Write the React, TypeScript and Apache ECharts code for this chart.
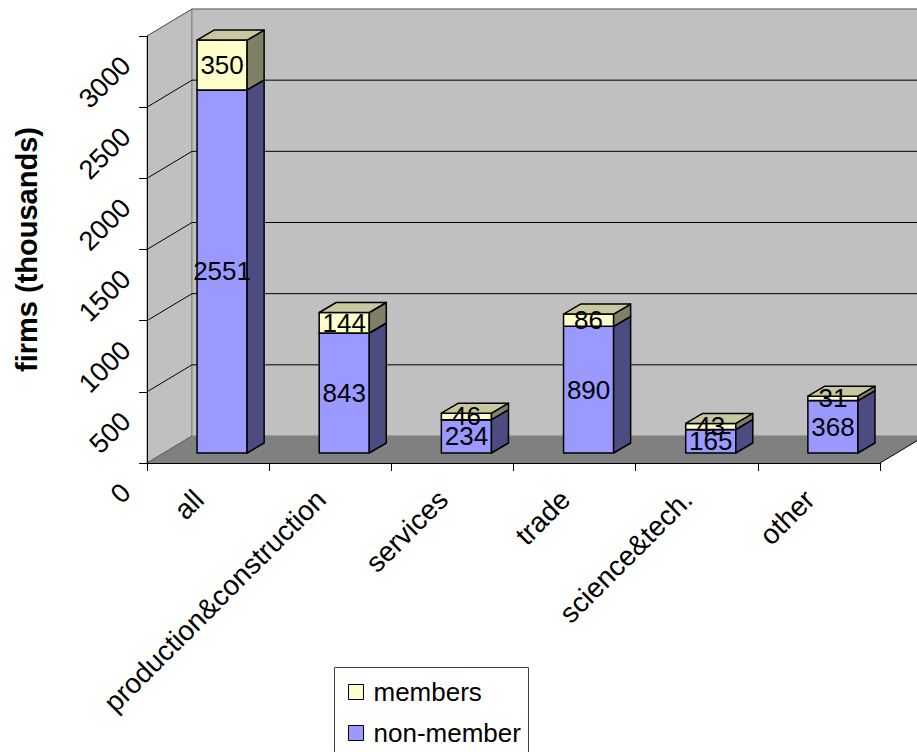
import React, { useEffect, useRef } from "react";
import * as echarts from "echarts";

const categories = ["all", "production&construction", "services", "trade", "science&tech.", "other"];
const nonMember = [2551, 843, 234, 890, 165, 368];
const members = [350, 144, 46, 86, 43, 31];
const yTicks = [0, 500, 1000, 1500, 2000, 2500, 3000];
const yTickLabels = ["0", "500", "1000", "1500", "2000", "2500", "3000"];
const seriesNames = ["members", "non-member"];

const FONT = "Liberation Sans, Arial, sans-serif";
// 3D projection offsets (pixels)
const WALL_DX = 45;
const WALL_DY = -27;
const BAR_FX = 14;
const BAR_FY = -10;
const BAR_DX = 17;
const BAR_DY = -10;
const BAR_FRAC = 0.41;
const YLABEL_DX = -21;
const YLABEL_DY = 25;

function boxGeom(api: any) {
  const i = api.value(0);
  const lo = api.value(1);
  const hi = api.value(2);
  const band = api.size([1, 0])[0];
  const w = band * BAR_FRAC;
  const pLo = api.coord([i, lo]);
  const pHi = api.coord([i, hi]);
  const cx = pLo[0];
  const x0 = cx - w / 2 + BAR_FX;
  const x1 = cx + w / 2 + BAR_FX;
  const yb = pLo[1] + BAR_FY;
  const yt = pHi[1] + BAR_FY;
  return { x0, x1, yb, yt };
}

function makeBoxRenderer(front: string, side: string, top: string) {
  return (params: any, api: any) => {
    const { x0, x1, yb, yt } = boxGeom(api);
    const st = (fill: string) => ({ fill, stroke: "#000", lineWidth: 1.5, lineJoin: "round" });
    return {
      type: "group",
      children: [
        { type: "polygon", shape: { points: [[x0, yt], [x1, yt], [x1, yb], [x0, yb]] }, style: st(front) },
        {
          type: "polygon",
          shape: { points: [[x1, yb], [x1 + BAR_DX, yb + BAR_DY], [x1 + BAR_DX, yt + BAR_DY], [x1, yt]] },
          style: st(side),
        },
        {
          type: "polygon",
          shape: { points: [[x0, yt], [x1, yt], [x1 + BAR_DX, yt + BAR_DY], [x0 + BAR_DX, yt + BAR_DY]] },
          style: st(top),
        },
      ],
    };
  };
}

function renderWalls(params: any, api: any) {
  const cs = params.coordSys;
  const X0 = cs.x;
  const X1 = cs.x + cs.width;
  const Yb = api.coord([0, yTicks[0]])[1];
  const Yt = api.coord([0, yTicks[yTicks.length - 1]])[1];
  const children: any[] = [];
  children.push({
    type: "polygon",
    shape: { points: [[X0, Yb], [X0 + WALL_DX, Yb + WALL_DY], [X0 + WALL_DX, Yt + WALL_DY], [X0, Yt]] },
    style: { fill: "#c0c0c0", stroke: "#808080", lineWidth: 1 },
  });
  children.push({
    type: "polygon",
    shape: {
      points: [
        [X0 + WALL_DX, Yt + WALL_DY],
        [X1 + WALL_DX, Yt + WALL_DY],
        [X1 + WALL_DX, Yb + WALL_DY],
        [X0 + WALL_DX, Yb + WALL_DY],
      ],
    },
    style: { fill: "#c0c0c0", stroke: "#808080", lineWidth: 1 },
  });
  children.push({
    type: "polygon",
    shape: { points: [[X0, Yb], [X1, Yb], [X1 + WALL_DX, Yb + WALL_DY], [X0 + WALL_DX, Yb + WALL_DY]] },
    style: { fill: "#808080" },
  });
  yTicks.forEach((v, k) => {
    const y = api.coord([0, v])[1];
    const last = k === yTicks.length - 1;
    const color = last || k === 0 ? "#606060" : "#000";
    children.push({
      type: "line",
      shape: { x1: X0, y1: y, x2: X0 + WALL_DX, y2: y + WALL_DY },
      style: { stroke: color, lineWidth: 1 },
    });
    if (k > 0) {
      children.push({
        type: "line",
        shape: { x1: X0 + WALL_DX, y1: y + WALL_DY, x2: X1 + WALL_DX, y2: y + WALL_DY },
        style: { stroke: last ? "#808080" : "#000", lineWidth: 1 },
      });
    }
    // rotated tick label for the value axis
    children.push({
      type: "text",
      x: X0 + YLABEL_DX,
      y: y + YLABEL_DY,
      rotation: Math.PI / 4,
      style: {
        text: yTickLabels[k],
        fill: "#000",
        font: `27px ${FONT}`,
        align: "right",
        verticalAlign: "middle",
      },
    });
  });
  children.push({
    type: "line",
    shape: { x1: X1, y1: Yb, x2: X1 + WALL_DX, y2: Yb + WALL_DY },
    style: { stroke: "#000", lineWidth: 1 },
  });
  return { type: "group", children };
}

function renderLabel(params: any, api: any) {
  const { x0, x1, yb, yt } = boxGeom(api);
  return {
    type: "text",
    style: {
      x: (x0 + x1) / 2,
      y: (yb + yt) / 2,
      text: String(api.value(3)),
      fill: "#000",
      font: `26px ${FONT}`,
      align: "center",
      verticalAlign: "middle",
    },
  };
}

const legendBase = {
  icon: "rect",
  left: 348,
  itemWidth: 15,
  itemHeight: 15,
  padding: 0,
  itemStyle: { borderColor: "#000", borderWidth: 1 },
  textStyle: { fontSize: 26, color: "#000", fontFamily: FONT, padding: [0, 0, 0, 5] },
};

export default function App() {
  const ref = useRef<HTMLDivElement>(null);
  useEffect(() => {
    if (!ref.current) return;
    const chart = echarts.init(ref.current, null, { renderer: "svg" });
    const nmData = nonMember.map((v, i) => [i, 0, v, v]);
    const mData = members.map((v, i) => [i, nonMember[i], nonMember[i] + v, v]);
    chart.setOption({
      animation: false,
      backgroundColor: "#fff",
      textStyle: { fontFamily: FONT },
      grid: { left: 147, right: 37, top: 36, bottom: 289 },
      graphic: [
        {
          type: "rect",
          left: 334,
          top: 667,
          z: 0,
          shape: { width: 194, height: 100 },
          style: { fill: "#fff", stroke: "#404040", lineWidth: 1 },
        },
      ],
      legend: [
        { ...legendBase, data: [seriesNames[0]], top: 679 },
        { ...legendBase, data: [seriesNames[1]], top: 720 },
      ],
      xAxis: {
        type: "category",
        data: categories,
        z: 5,
        axisLine: { show: true, lineStyle: { color: "#000", width: 1 } },
        axisTick: { show: true, length: 8, lineStyle: { color: "#000" } },
        axisLabel: {
          rotate: 45,
          margin: 41,
          fontSize: 28,
          color: "#000",
          interval: 0,
          fontFamily: FONT,
          align: "right",
          verticalAlign: "bottom",
          lineHeight: 26,
          hideOverlap: false,
        },
        splitLine: { show: false },
      },
      yAxis: {
        type: "value",
        min: 0,
        max: 3000,
        interval: 500,
        z: 5,
        name: "firms (thousands)",
        nameLocation: "middle",
        nameGap: 106,
        nameTextStyle: {
          fontSize: 29,
          fontWeight: "bold",
          color: "#000",
          fontFamily: FONT,
        },
        axisLine: { show: true, lineStyle: { color: "#000", width: 1 } },
        axisTick: { show: true, length: 8, lineStyle: { color: "#000" } },
        axisLabel: { show: false },
        splitLine: { show: false },
      },
      series: [
        {
          type: "custom",
          name: "walls",
          z: 1,
          clip: false,
          silent: true,
          data: [[0, 0]],
          renderItem: renderWalls,
        },
        {
          type: "custom",
          name: "non-member",
          z: 2,
          clip: false,
          itemStyle: { color: "#9999ff", borderColor: "#000", borderWidth: 1 },
          encode: { x: 0, y: 2 },
          data: nmData,
          renderItem: makeBoxRenderer("#9999ff", "#4c4c80", "#7a7acc"),
        },
        {
          type: "custom",
          name: "members",
          z: 2,
          clip: false,
          itemStyle: { color: "#ffffcc", borderColor: "#000", borderWidth: 1 },
          encode: { x: 0, y: 2 },
          data: mData,
          renderItem: makeBoxRenderer("#ffffcc", "#808066", "#c8c8a0"),
        },
        {
          type: "custom",
          name: "labels",
          z: 3,
          clip: false,
          silent: true,
          encode: { x: 0, y: 2 },
          data: [...nmData, ...mData],
          renderItem: renderLabel,
        },
      ],
    });
    return () => chart.dispose();
  }, []);
  return <div ref={ref} style={{ position: "fixed", left: 0, top: 0, width: 917, height: 752 }} />;
}
